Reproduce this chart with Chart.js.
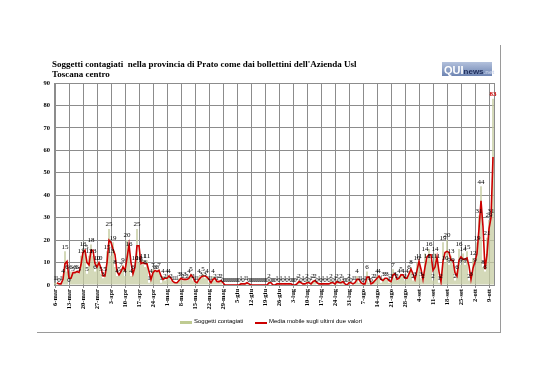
<!DOCTYPE html>
<html>
<head>
<meta charset="utf-8">
<script src="https://cdn.jsdelivr.net/npm/chart.js@4.4.1/dist/chart.umd.min.js"></script>
<style>
body { margin: 0; background: #fff; }
#box { position: relative; width: 538px; height: 380px; overflow: hidden; }
#grafico { position: absolute; left: 0; top: 0; }
#cornice { position: absolute; left: 37px; top: 45px; width: 463px; height: 287px; border-right: 1px solid #9a9a9a; border-bottom: 1px solid #9a9a9a; }
#titolo { position: absolute; left: 52px; top: 59px; font: bold 9px "Liberation Serif", serif; line-height: 10px; color: #000; }
#logo { position: absolute; left: 442px; top: 62px; width: 50px; height: 14px; background: linear-gradient(#b3c1dc, #6d84b2); font-family: "Liberation Sans", sans-serif; font-weight: bold; line-height: 14px; white-space: nowrap; }
#logo .qui { color: #fff; font-size: 11px; padding-left: 2px; }
#logo .news { color: #1d2c5a; font-size: 8px; }
#logo .net { color: #c9d3ea; font-size: 6px; }
.leg { position: absolute; font: 6px "Liberation Sans", sans-serif; color: #000; white-space: nowrap; }
.swatch { position: absolute; }
</style>
</head>
<body>
<div id="box">
  <div id="cornice"></div>
  <canvas id="grafico" width="538" height="380"></canvas>
  <div id="titolo">Soggetti contagiati&nbsp; nella provincia di Prato come dai bollettini dell'Azienda Usl<br>Toscana centro</div>
  <div id="logo"><span class="qui">QUI</span><span class="news">news</span><span class="net">.net</span></div>
  <div class="swatch" style="left:180px; top:321px; width:12px; height:3px; background:#bfcb92;"></div>
  <div class="leg" style="left:194px; top:318px;">Soggetti contagiati</div>
  <div class="swatch" style="left:255px; top:322px; width:12px; height:1.5px; background:#cc0000;"></div>
  <div class="leg" style="left:269px; top:318px;">Media mobile sugli ultimi due valori</div>
</div>
<script>
// etichette settimanali dell'asse x (una ogni 7 giorni, dal 6 marzo)
const etichette = ['6-mar', '13-mar', '20-mar', '27-mar', '3-apr', '10-apr', '17-apr', '24-apr',
    '1-mag', '8-mag', '15-mag', '22-mag', '29-mag', '5-giu', '12-giu', '19-giu', '26-giu',
    '3-lug', '10-lug', '17-lug', '24-lug', '31-lug', '7-ago', '14-ago', '21-ago', '28-ago',
    '4-set', '11-set', '18-set', '25-set', '2-ott', '9-ott'];

// nuovi contagiati giorno per giorno, dal 6 marzo all'11 ottobre
const contagiati = [
    // marzo (6-31)
    1, 1, 0, 1, 4, 15, 6, 0, 6, 5, 6, 6, 5, 13, 16, 15, 5, 13, 18, 13, 6, 10, 10, 5, 3, 5,
    // aprile
    15, 25, 13, 19, 8, 4, 5, 7, 9, 4, 20, 16, 4, 6, 10, 25, 10, 9, 11, 8, 11, 1, 4, 7, 6, 6, 7, 1, 4, 2,
    // maggio
    4, 4, 2, 1, 1, 1, 3, 3, 2, 3, 2, 4, 5, 2, 1, 1, 4, 3, 5, 3, 4, 1, 1, 4, 2, 1, 2, 2, 0, 0, 0,
    // giugno
    0, 0, 0, 0, 0, 0, 1, 0, 1, 1, 0, 0, 0, 0, 0, 0, 0, 0, 0, 0, 2, 0, 0, 0, 1, 0, 1, 0, 1, 0,
    // luglio
    1, 0, 0, 0, 1, 2, 0, 1, 0, 2, 0, 1, 2, 2, 0, 1, 0, 1, 0, 1, 0, 2, 0, 1, 2, 0, 2, 1, 0, 0, 2,
    // agosto
    0, 1, 1, 4, 1, 1, 0, 1, 6, 1, 0, 2, 2, 4, 4, 1, 3, 3, 3, 1, 2, 7, 3, 2, 4, 5, 4, 2, 4, 6, 8,
    // settembre
    2, 3, 10, 11, 3, 2, 14, 11, 16, 11, 2, 14, 11, 1, 2, 19, 10, 20, 9, 13, 9, 2, 6, 16, 9, 14, 9, 15, 2, 3,
    // ottobre (1-11)
    12, 9, 19, 31, 44, 8, 6, 21, 29, 31, 83
];

const giorni = contagiati.map((v, i) => i % 7 === 0 ? etichette[i / 7] : '');

// media mobile sugli ultimi due valori (come la linea di tendenza di Excel)
const mediaMobile = contagiati.map((v, i) => i === 0 ? null : (v + contagiati[i - 1]) / 2);

const etichetteValori = {
    id: 'etichetteValori',
    afterDatasetsDraw(chart) {
        const ctx = chart.ctx;
        const meta = chart.getDatasetMeta(1);
        ctx.save();
        ctx.textAlign = 'center';
        ctx.textBaseline = 'bottom';
        meta.data.forEach((bar, i) => {
            const ultimo = i === contagiati.length - 1;
            ctx.font = (ultimo ? 'bold ' : '') + '7px "Liberation Serif"';
            ctx.fillStyle = ultimo ? '#cc0000' : '#000';
            ctx.fillText(contagiati[i], bar.x, bar.y - 1);
        });
        ctx.restore();
    }
};

const bordoArea = {
    id: 'bordoArea',
    beforeDatasetsDraw(chart) {
        const a = chart.chartArea;
        const ctx = chart.ctx;
        ctx.save();
        ctx.strokeStyle = '#8c8c8c';
        ctx.lineWidth = 1;
        ctx.strokeRect(a.left + 0.5, a.top + 0.5, a.right - a.left, a.bottom - a.top);
        ctx.restore();
    }
};

new Chart(document.getElementById('grafico'), {
    type: 'bar',
    data: {
        labels: giorni,
        datasets: [{
            type: 'line',
            label: 'Media mobile sugli ultimi due valori',
            data: mediaMobile,
            borderColor: '#cc0000',
            borderWidth: 1.6,
            pointRadius: 0,
            tension: 0,
            order: 0
        }, {
            label: 'Soggetti contagiati',
            data: contagiati,
            backgroundColor: '#c6cda2',
            barPercentage: 0.75,
            categoryPercentage: 1,
            order: 1
        }]
    },
    options: {
        responsive: false,
        animation: false,
        layout: { padding: { left: 36, top: 83, right: 44, bottom: 55 } },
        plugins: {
            legend: { display: false },
            title: { display: false },
            tooltip: { enabled: false }
        },
        scales: {
            x: {
                offset: true,
                grid: {
                    offset: false,
                    color: c => c.index % 7 === 0 ? '#8c8c8c' : 'rgba(0,0,0,0)',
                    tickLength: 3
                },
                border: { color: '#444' },
                ticks: {
                    autoSkip: false,
                    maxRotation: 90,
                    minRotation: 90,
                    padding: 1,
                    color: '#000',
                    font: { family: 'Liberation Serif', size: 6.5, weight: 'bold' }
                },
                afterFit: s => { s.height = 40; }
            },
            y: {
                min: 0,
                max: 90,
                ticks: {
                    stepSize: 10,
                    padding: 4,
                    color: '#000',
                    font: { family: 'Liberation Serif', size: 6.5, weight: 'bold' }
                },
                grid: { color: '#8c8c8c', tickLength: 0 },
                border: { color: '#444' },
                afterFit: s => { s.width = 18; }
            }
        }
    },
    plugins: [bordoArea, etichetteValori]
});
</script>
</body>
</html>
